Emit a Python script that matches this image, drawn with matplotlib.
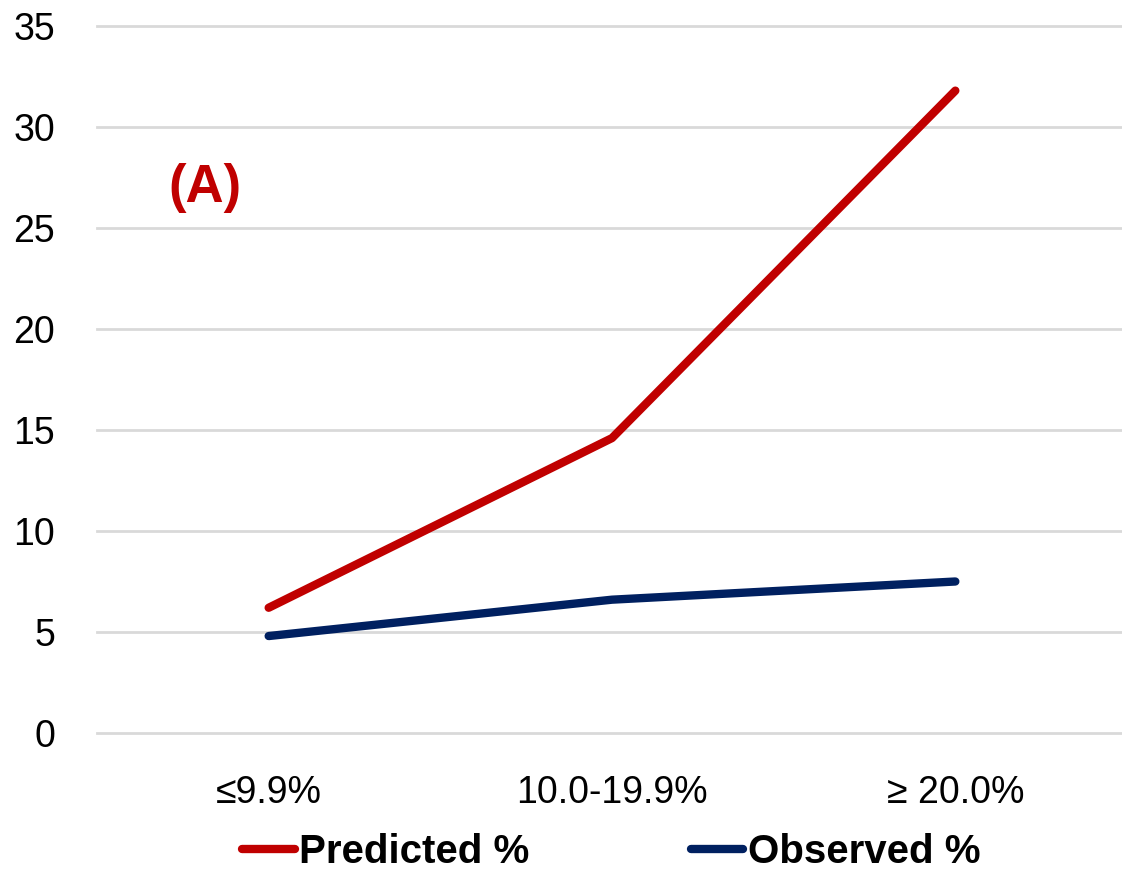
import numpy as np
import matplotlib
matplotlib.use('Agg')
import matplotlib.pyplot as plt

plt.rcParams['font.family'] = ['Liberation Sans', 'DejaVu Sans']

categories = ['≤9.9%', '10.0-19.9%', '≥ 20.0%']
predicted = [6.2, 14.6, 31.8]
observed = [4.8, 6.6, 7.5]
yticks = [0, 5, 10, 15, 20, 25, 30, 35]

fig = plt.figure(figsize=(11.22, 8.71), dpi=100)
ax = fig.add_axes([97 / 1122, 1 - 733 / 871, 1030 / 1122, 707 / 871])

x = np.arange(len(categories))
ax.plot(x, predicted, color='#C00000', lw=6, solid_capstyle='round', label='Predicted %')
ax.plot(x, observed, color='#002060', lw=6, solid_capstyle='round', label='Observed %')

ax.set_xlim(-0.5, 2.5)
ax.set_ylim(0, 35)
ax.set_yticks(yticks)
ax.set_xticks(x)
ax.set_xticklabels(categories)
ax.grid(axis='y', color='#d9d9d9', lw=2)
for gl in ax.get_ygridlines():
	gl.set_clip_on(False)
ax.set_axisbelow(True)
for s in ax.spines.values():
	s.set_visible(False)
ax.tick_params(axis='both', length=0, labelsize=27)
ax.tick_params(axis='y', pad=30)
ax.tick_params(axis='x', pad=30)

fig.text(205 / 1122, 1 - 188 / 871, '(A)', color='#C00000', fontsize=38,
         fontweight='bold', ha='center', va='center')

leg = fig.legend(loc='center', bbox_to_anchor=(0.545, 1 - 852 / 871), ncol=2,
                 frameon=False, prop={'size': 29, 'weight': 'bold'},
                 handlelength=1.3, handletextpad=0.12, columnspacing=4.0)

fig.savefig('out.png', dpi=100)
